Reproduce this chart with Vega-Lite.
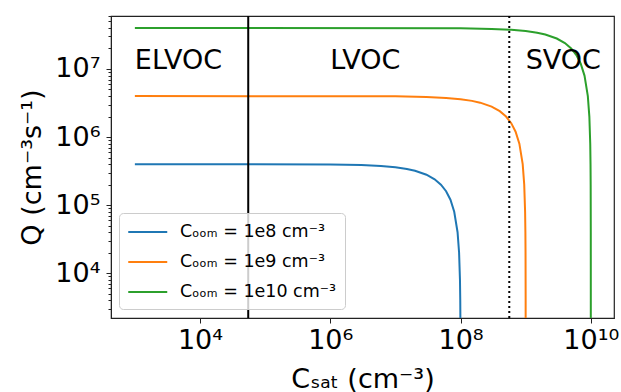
{
  "$schema": "https://vega.github.io/schema/vega-lite/v6.json",
  "width": 503,
  "height": 302,
  "autosize": {"type": "none"},
  "padding": {"left": 111, "top": 16, "right": 7, "bottom": 74},
  "background": "white",
  "config": {
    "font": "DejaVu Sans",
    "view": {"stroke": "#222", "strokeWidth": 1.2},
    "axis": {
      "domainColor": "#222",
      "tickColor": "#222",
      "labelColor": "black",
      "titleColor": "black",
      "labelFont": "DejaVu Sans",
      "titleFont": "DejaVu Sans",
      "labelFontSize": 27,
      "titleFontSize": 27,
      "titleFontWeight": "normal",
      "grid": false
    }
  },
  "datasets": {
    "curves": [
      {"series": "Cₒₒₘ = 1e8 cm⁻³", "csat": 1000, "q": 400000},
      {"series": "Cₒₒₘ = 1e8 cm⁻³", "csat": 1000000, "q": 396000},
      {"series": "Cₒₒₘ = 1e8 cm⁻³", "csat": 3000000, "q": 388000},
      {"series": "Cₒₒₘ = 1e8 cm⁻³", "csat": 6000000, "q": 376000},
      {"series": "Cₒₒₘ = 1e8 cm⁻³", "csat": 10000000, "q": 360000},
      {"series": "Cₒₒₘ = 1e8 cm⁻³", "csat": 15000000, "q": 340000},
      {"series": "Cₒₒₘ = 1e8 cm⁻³", "csat": 20000000, "q": 320000},
      {"series": "Cₒₒₘ = 1e8 cm⁻³", "csat": 30000000, "q": 280000},
      {"series": "Cₒₒₘ = 1e8 cm⁻³", "csat": 40000000, "q": 240000},
      {"series": "Cₒₒₘ = 1e8 cm⁻³", "csat": 50000000, "q": 200000},
      {"series": "Cₒₒₘ = 1e8 cm⁻³", "csat": 60000000, "q": 160000},
      {"series": "Cₒₒₘ = 1e8 cm⁻³", "csat": 70000000, "q": 120000},
      {"series": "Cₒₒₘ = 1e8 cm⁻³", "csat": 80000000, "q": 80000},
      {"series": "Cₒₒₘ = 1e8 cm⁻³", "csat": 90000000, "q": 40000},
      {"series": "Cₒₒₘ = 1e8 cm⁻³", "csat": 95000000, "q": 20000},
      {"series": "Cₒₒₘ = 1e8 cm⁻³", "csat": 98000000, "q": 8000},
      {"series": "Cₒₒₘ = 1e8 cm⁻³", "csat": 99000000, "q": 4000},
      {"series": "Cₒₒₘ = 1e8 cm⁻³", "csat": 99500000, "q": 2000},
      {"series": "Cₒₒₘ = 1e8 cm⁻³", "csat": 99900000, "q": 400},
      {"series": "Cₒₒₘ = 1e9 cm⁻³", "csat": 1000, "q": 4000000},
      {"series": "Cₒₒₘ = 1e9 cm⁻³", "csat": 10000000, "q": 3960000},
      {"series": "Cₒₒₘ = 1e9 cm⁻³", "csat": 30000000, "q": 3880000},
      {"series": "Cₒₒₘ = 1e9 cm⁻³", "csat": 60000000, "q": 3760000},
      {"series": "Cₒₒₘ = 1e9 cm⁻³", "csat": 100000000, "q": 3600000},
      {"series": "Cₒₒₘ = 1e9 cm⁻³", "csat": 150000000, "q": 3400000},
      {"series": "Cₒₒₘ = 1e9 cm⁻³", "csat": 200000000, "q": 3200000},
      {"series": "Cₒₒₘ = 1e9 cm⁻³", "csat": 300000000, "q": 2800000},
      {"series": "Cₒₒₘ = 1e9 cm⁻³", "csat": 400000000, "q": 2400000},
      {"series": "Cₒₒₘ = 1e9 cm⁻³", "csat": 500000000, "q": 2000000},
      {"series": "Cₒₒₘ = 1e9 cm⁻³", "csat": 600000000, "q": 1600000},
      {"series": "Cₒₒₘ = 1e9 cm⁻³", "csat": 700000000, "q": 1200000},
      {"series": "Cₒₒₘ = 1e9 cm⁻³", "csat": 800000000, "q": 800000},
      {"series": "Cₒₒₘ = 1e9 cm⁻³", "csat": 900000000, "q": 400000},
      {"series": "Cₒₒₘ = 1e9 cm⁻³", "csat": 950000000, "q": 200000},
      {"series": "Cₒₒₘ = 1e9 cm⁻³", "csat": 980000000, "q": 80000},
      {"series": "Cₒₒₘ = 1e9 cm⁻³", "csat": 990000000, "q": 40000},
      {"series": "Cₒₒₘ = 1e9 cm⁻³", "csat": 995000000, "q": 20000},
      {"series": "Cₒₒₘ = 1e9 cm⁻³", "csat": 999000000, "q": 4000},
      {"series": "Cₒₒₘ = 1e9 cm⁻³", "csat": 999900000, "q": 400},
      {"series": "Cₒₒₘ = 1e10 cm⁻³", "csat": 1000, "q": 40000000},
      {"series": "Cₒₒₘ = 1e10 cm⁻³", "csat": 100000000, "q": 39600000},
      {"series": "Cₒₒₘ = 1e10 cm⁻³", "csat": 300000000, "q": 38800000},
      {"series": "Cₒₒₘ = 1e10 cm⁻³", "csat": 600000000, "q": 37600000},
      {"series": "Cₒₒₘ = 1e10 cm⁻³", "csat": 1000000000, "q": 36000000},
      {"series": "Cₒₒₘ = 1e10 cm⁻³", "csat": 1500000000, "q": 34000000},
      {"series": "Cₒₒₘ = 1e10 cm⁻³", "csat": 2000000000, "q": 32000000},
      {"series": "Cₒₒₘ = 1e10 cm⁻³", "csat": 3000000000, "q": 28000000},
      {"series": "Cₒₒₘ = 1e10 cm⁻³", "csat": 4000000000, "q": 24000000},
      {"series": "Cₒₒₘ = 1e10 cm⁻³", "csat": 5000000000, "q": 20000000},
      {"series": "Cₒₒₘ = 1e10 cm⁻³", "csat": 6000000000, "q": 16000000},
      {"series": "Cₒₒₘ = 1e10 cm⁻³", "csat": 7000000000, "q": 12000000},
      {"series": "Cₒₒₘ = 1e10 cm⁻³", "csat": 8000000000, "q": 8000000},
      {"series": "Cₒₒₘ = 1e10 cm⁻³", "csat": 9000000000, "q": 4000000},
      {"series": "Cₒₒₘ = 1e10 cm⁻³", "csat": 9500000000, "q": 2000000},
      {"series": "Cₒₒₘ = 1e10 cm⁻³", "csat": 9800000000, "q": 800000},
      {"series": "Cₒₒₘ = 1e10 cm⁻³", "csat": 9900000000, "q": 400000},
      {"series": "Cₒₒₘ = 1e10 cm⁻³", "csat": 9950000000, "q": 200000},
      {"series": "Cₒₒₘ = 1e10 cm⁻³", "csat": 9990000000, "q": 40000},
      {"series": "Cₒₒₘ = 1e10 cm⁻³", "csat": 9999000000, "q": 4000},
      {"series": "Cₒₒₘ = 1e10 cm⁻³", "csat": 9999900000, "q": 400}
    ],
    "regions": [
      {"label": "ELVOC", "csat": 1000, "q": 10000000},
      {"label": "LVOC", "csat": 1000000, "q": 10000000},
      {"label": "SVOC", "csat": 1000000000, "q": 10000000}
    ]
  },
  "layer": [
    {
      "data": {"name": "curves"},
      "mark": {"type": "line", "strokeWidth": 2, "clip": true, "interpolate": "linear"},
      "encoding": {
        "x": {
          "field": "csat", "type": "quantitative",
          "scale": {"type": "log", "domain": [430, 22700000000], "nice": false},
          "axis": {
            "title": "Cₛₐₜ (cm⁻³)",
            "values": [10000, 1000000, 100000000, 10000000000],
            "labelExpr": "'10' + ['','¹','²','³','⁴','⁵','⁶','⁷','⁸','⁹','¹⁰'][round(log(datum.value)/LN10)]",
            "tickSize": 5,
            "labelPadding": 4,
            "titlePadding": 13
          }
        },
        "y": {
          "field": "q", "type": "quantitative",
          "scale": {"type": "log", "domain": [2200, 60000000], "nice": false},
          "axis": {
            "title": "Q (cm⁻³s⁻¹)",
            "values": [3000,4000,5000,6000,7000,8000,9000,10000,20000,30000,40000,50000,60000,70000,80000,90000,100000,200000,300000,400000,500000,600000,700000,800000,900000,1000000,2000000,3000000,4000000,5000000,6000000,7000000,8000000,9000000,10000000,20000000,30000000,40000000,50000000,60000000],
            "labelExpr": "abs(log(datum.value)/LN10 - round(log(datum.value)/LN10)) < 0.001 ? '10' + ['','¹','²','³','⁴','⁵','⁶','⁷','⁸','⁹','¹⁰'][round(log(datum.value)/LN10)] : ''",
            "tickSize": {"condition": {"test": "abs(log(datum.value)/LN10 - round(log(datum.value)/LN10)) < 0.001", "value": 5}, "value": 3},
            "labelPadding": 6,
            "titlePadding": 8,
            "labelOverlap": false
          }
        },
        "color": {
          "field": "series", "type": "nominal",
          "scale": {
            "domain": ["Cₒₒₘ = 1e8 cm⁻³", "Cₒₒₘ = 1e9 cm⁻³", "Cₒₒₘ = 1e10 cm⁻³"],
            "range": ["#1f77b4", "#ff7f0e", "#2ca02c"]
          },
          "legend": {
            "title": null,
            "orient": "none",
            "legendX": 8,
            "legendY": 197,
            "symbolType": "M-1,0H3",
            "symbolSize": 380,
            "symbolStrokeWidth": 2,
            "labelFontSize": 17.5,
            "labelColor": "black",
            "labelFont": "DejaVu Sans",
            "labelOffset": 31,
            "rowPadding": 10,
            "padding": 8,
            "fillColor": "rgba(255,255,255,0.8)",
            "strokeColor": "#cccccc",
            "cornerRadius": 4
          }
        }
      }
    },
    {
      "data": {"values": [{"csat": 55000}]},
      "mark": {"type": "rule", "color": "black", "strokeWidth": 2},
      "encoding": {"x": {"field": "csat", "type": "quantitative"}}
    },
    {
      "data": {"values": [{"csat": 560000000}]},
      "mark": {"type": "rule", "color": "black", "strokeWidth": 2, "strokeDash": [2, 3]},
      "encoding": {"x": {"field": "csat", "type": "quantitative"}}
    },
    {
      "data": {"name": "regions"},
      "mark": {"type": "text", "align": "left", "baseline": "alphabetic", "fontSize": 27, "font": "DejaVu Sans", "color": "black"},
      "encoding": {
        "x": {"field": "csat", "type": "quantitative"},
        "y": {"field": "q", "type": "quantitative"},
        "text": {"field": "label"}
      }
    }
  ]
}
